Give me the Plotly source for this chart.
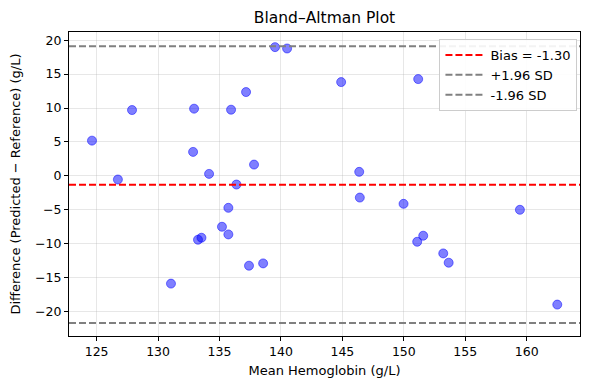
import plotly.graph_objects as go

# Data
mean_hb = [124.62, 126.73, 127.88, 132.93, 132.85, 134.15, 135.94, 137.16, 137.81, 136.38,
           139.52, 140.50, 144.90, 151.17, 146.37, 146.42, 135.72, 135.20, 135.72, 133.25,
           133.53, 137.40, 138.55, 131.05, 149.98, 151.09, 151.58, 153.21, 153.65, 159.45,
           162.49]
diff_hb = [5.19, -0.54, 9.70, 9.90, 3.53, 0.29, 9.75, 12.35, 1.66, -1.28,
           18.97, 18.77, 13.82, 14.26, 0.59, -3.20, -4.71, -7.50, -8.63, -9.41,
           -9.12, -13.24, -12.90, -15.88, -4.12, -9.71, -8.82, -11.43, -12.80, -5.00,
           -18.97]
bias = -1.30
loa_upper = 19.1
loa_lower = -21.7
legend_labels = ["Bias = -1.30", "+1.96 SD", "-1.96 SD"]

FONT = "DejaVu Sans"
DASH = "7px,3px"
fig = go.Figure()

fig.add_trace(go.Scatter(
    x=mean_hb, y=diff_hb, mode="markers", showlegend=False,
    marker=dict(size=9, color="rgba(0,0,255,0.5)",
                line=dict(color="rgba(0,0,255,0.5)", width=1)),
))

for val, col, lab in [(bias, "red", legend_labels[0]),
                      (loa_upper, "gray", legend_labels[1]),
                      (loa_lower, "gray", legend_labels[2])]:
    fig.add_hline(y=val, line=dict(color=col, width=2, dash=DASH))
    fig.add_trace(go.Scatter(x=[None], y=[None], mode="lines", name=lab,
                             line=dict(color=col, width=2, dash=DASH)))

axis_common = dict(
    showline=True, linecolor="black", linewidth=1, mirror=True,
    ticks="outside", ticklen=4, tickcolor="black", automargin=False,
    showgrid=True, gridcolor="rgba(176,176,176,0.3)", gridwidth=1,
    zeroline=False, tickfont=dict(family=FONT, size=12.5, color="black"),
)

fig.update_xaxes(range=[122.75, 164.34], tickvals=[125, 130, 135, 140, 145, 150, 155, 160],
                 title=dict(text="Mean Hemoglobin (g/L)", font=dict(family=FONT, size=13, color="black"), standoff=7),
                 **axis_common)
fig.update_yaxes(range=[-23.6, 21.2], tickvals=[-20, -15, -10, -5, 0, 5, 10, 15, 20],
                 title=dict(text="Difference (Predicted − Reference) (g/L)", font=dict(family=FONT, size=13, color="black"), standoff=12),
                 **axis_common)

fig.update_layout(
    width=590, height=390,
    margin=dict(l=61, r=18, t=24, b=62, autoexpand=False),
    plot_bgcolor="white", paper_bgcolor="white",
    title=dict(text="Bland–Altman Plot", x=0.5, xref="paper", y=0.975, yanchor="middle",
               font=dict(family=FONT, size=15.5, color="black")),
    legend=dict(x=0.995, y=0.977, xanchor="right", yanchor="top",
                bgcolor="rgba(255,255,255,0.9)", bordercolor="#cccccc", borderwidth=1,
                font=dict(family=FONT, size=13, color="black"),
                itemwidth=40, tracegroupgap=0),
)

fig.write_html("out.html")
